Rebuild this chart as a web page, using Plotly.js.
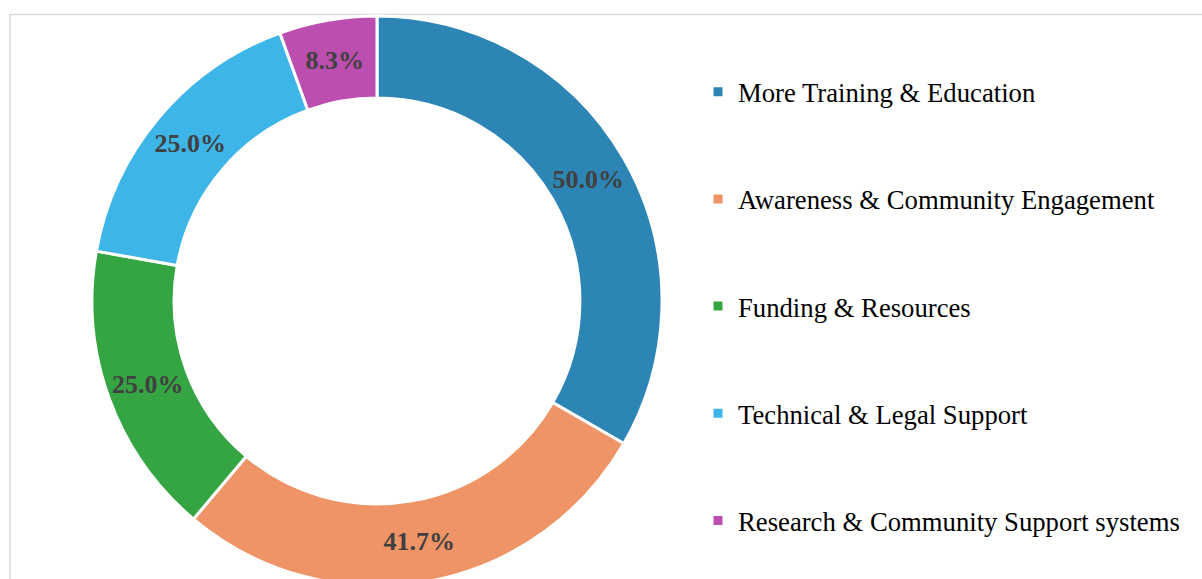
<!DOCTYPE html>
<html>
<head>
<meta charset="utf-8">
<script src="https://cdn.plot.ly/plotly-3.0.1.min.js"></script>
<style>
  html, body { margin: 0; padding: 0; background: #ffffff; overflow: hidden; }
  #chart { width: 1202px; height: 600px; }
</style>
</head>
<body>
<div id="chart"></div>
<script>
// Data
const categories = [
  "More Training & Education",
  "Awareness & Community Engagement",
  "Funding & Resources",
  "Technical & Legal Support",
  "Research & Community Support systems"
];
const values = [50.0, 41.7, 25.0, 25.0, 8.3];
const colors = ["#2d85b5", "#ee9466", "#35a442", "#3db5e6", "#bb4eae"];

// legend entries padded with blank lines to reproduce the wide legend spacing
// (last entry needs no padding below it)
const legendLabels = categories.map((c, i) =>
  i < categories.length - 1 ? c + "<br> <br> " : c);

const W = 1202, H = 600;

const trace = {
  type: "pie",
  labels: legendLabels,
  values: values,
  sort: false,
  direction: "clockwise",
  rotation: 0,
  hole: 0.712,
  domain: { x: [92 / W, 662 / W], y: [1 - 586 / H, 1 - 16 / H] },
  marker: { colors: colors, line: { color: "#ffffff", width: 3 } },
  texttemplate: "%{value:.1f}%",
  textposition: "inside",
  insidetextorientation: "horizontal",
  insidetextfont: { family: "Liberation Serif", size: 26, color: "#404040", weight: "bold" },
  hoverinfo: "none"
};

const layout = {
  width: W,
  height: H,
  margin: { l: 0, r: 0, t: 0, b: 0 },
  paper_bgcolor: "#ffffff",
  plot_bgcolor: "#ffffff",
  showlegend: true,
  legend: {
    x: 698 / W,
    xanchor: "left",
    y: 1 - 68 / H,
    yanchor: "top",
    font: { family: "Liberation Serif", size: 26.7, color: "#000000" },
    bgcolor: "rgba(0,0,0,0)",
    borderwidth: 0,
    valign: "top"
  },
  shapes: [{
    type: "rect", xref: "paper", yref: "paper",
    x0: 10 / W, x1: 1.05, y0: -0.1, y1: 1 - 14.5 / H,
    line: { color: "#d9d9d9", width: 1.5 },
    fillcolor: "rgba(0,0,0,0)",
    layer: "below"
  }]
};

Plotly.newPlot("chart", [trace], layout, { displayModeBar: false, staticPlot: true });
</script>
</body>
</html>
